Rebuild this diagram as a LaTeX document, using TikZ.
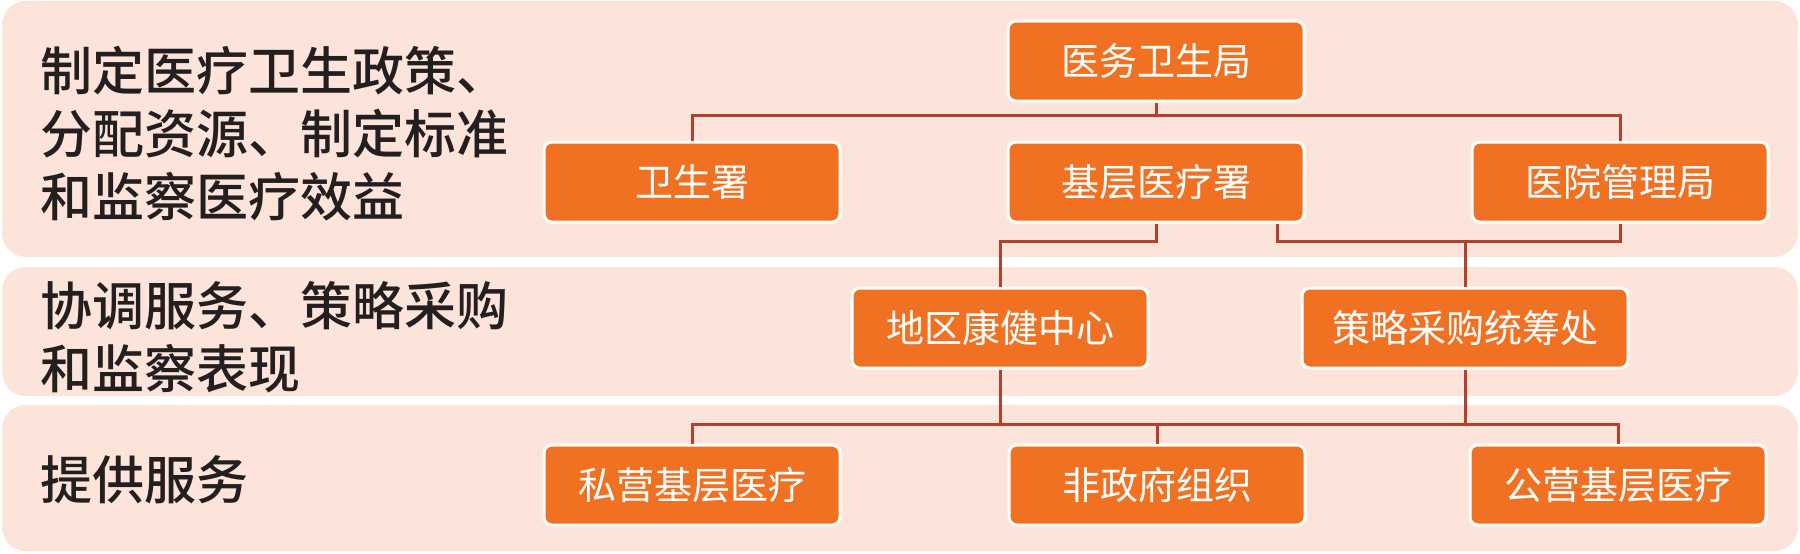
\documentclass[tikz,border=0pt]{standalone}
\usepackage{fontspec}
\usepackage{xcolor}
\usepackage{tikz}
\usetikzlibrary{positioning}
\newfontfamily\cjk{Noto Sans CJK SC}
\newfontfamily\cjkmed{Noto Sans CJK SC Medium}
\definecolor{bandpeach}{HTML}{FDE4DA}
\definecolor{boxorange}{HTML}{F17123}
\definecolor{linkred}{HTML}{B3412D}
\definecolor{labelink}{HTML}{231F20}

\begin{document}
\begin{tikzpicture}[x=0.5pt, y=-0.5pt,
        band/.style={fill=bandpeach, rounded corners=12pt},
        lvl/.style={anchor=west, align=left, inner sep=0pt, text=labelink,
                    font=\cjkmed\fontsize{26}{31.5}\selectfont},
        box/.style={draw=white, line width=1.5pt, fill=boxorange, rounded corners=4pt,
                    minimum width=148pt, minimum height=40pt, text=white,
                    font=\cjk\fontsize{19}{22}\selectfont},
        link/.style={draw=linkred, line width=1.5pt}
      ]
        \useasboundingbox (0,0) rectangle (1800,553);
        \fill[band] (2,1) rectangle (1798,257);
        \fill[band] (2,267) rectangle (1798,396);
        \fill[band] (2,405) rectangle (1798,551);

        \node[lvl] (l1) at (40,134) {制定医疗卫生政策、\\分配资源、制定标准\\和监察医疗效益};
        \node[lvl] (l2) at (40,337) {协调服务、策略采购\\和监察表现};
        \node[lvl] (l3) at (40,480) {提供服务};

        \node[box] (mhb) at (1156,61) {医务卫生局};
        \node[box] (phc) [below=19pt of mhb] {基层医疗署};
        \node[box] (dh)  [left=82.5pt of phc]  {卫生署};
        \node[box] (ha)  [right=82.5pt of phc] {医院管理局};
        \node[box] (dhc) at (1000,328) {地区康健中心};
        \node[box, minimum width=163pt] (spo) at (1465,328) {策略采购统筹处};
        \node[box] (ppc) at (692,485)  {私营基层医疗};
        \node[box] (ngo) at (1157,485) {非政府组织};
        \node[box] (gpc) at (1618,485) {公营基层医疗};

        \coordinate (b1) at (0,115);
        \coordinate (b2) at (0,241);
        \coordinate (b3) at (0,424);
        \coordinate (phcr) at ([xshift=-14pt]phc.south east);
        \draw[link] (mhb.south) -- (mhb.south |- b1);
        \draw[link] (dh.north) -- (dh.north |- b1) -- (ha.north |- b1) -- (ha.north);
        \draw[link] (phc.south) -- (phc.south |- b2) -| (dhc.north);
        \draw[link] (phcr) -- (phcr |- b2) -| (ha.south);
        \draw[link] (spo.north) -- (spo.north |- b2);
        \draw[link] (dhc.south) -- (dhc.south |- b3);
        \draw[link] (spo.south) -- (spo.south |- b3);
        \draw[link] (ppc.north) -- (ppc.north |- b3) -- (gpc.north |- b3) -- (gpc.north);
        \draw[link] (ngo.north) -- (ngo.north |- b3);
      \end{tikzpicture}
\end{document}
